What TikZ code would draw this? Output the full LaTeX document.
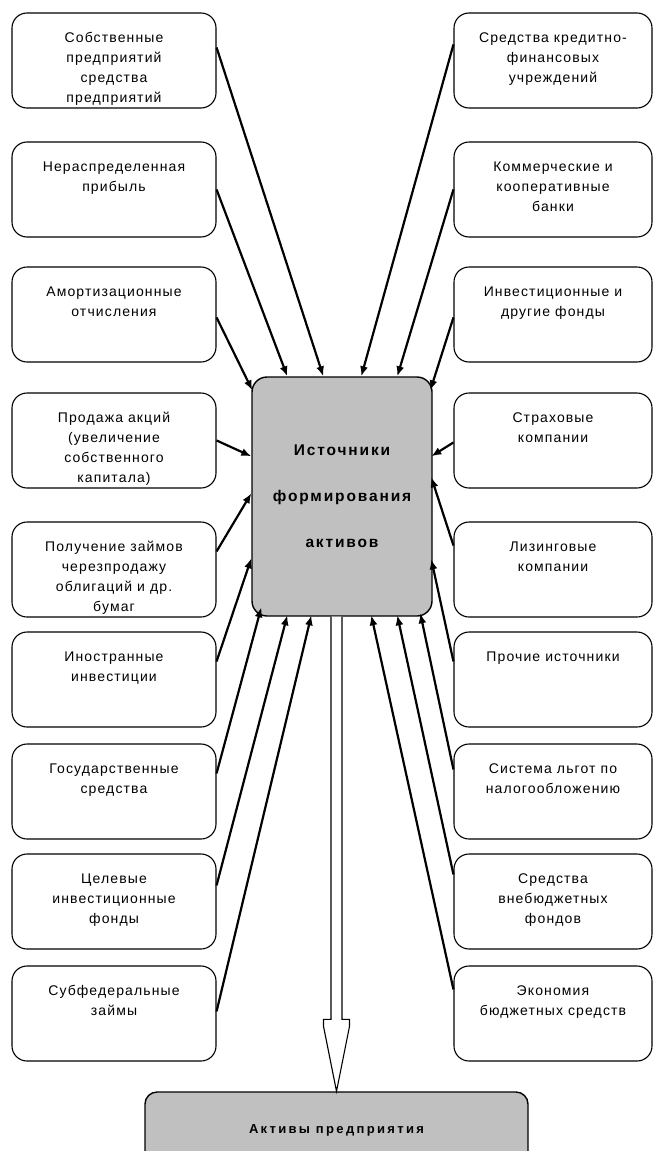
\documentclass[tikz,border=0pt]{standalone}
\usepackage{fontspec}
\setmainfont{Liberation Sans}
\newfontfamily\boxfont[LetterSpace=8]{Liberation Sans}
\newfontfamily\ctrfont[LetterSpace=12]{Liberation Sans}
\newfontfamily\btmfont[LetterSpace=18]{Liberation Sans}
\usetikzlibrary{arrows.meta,calc}
\definecolor{boxgray}{RGB}{192,192,192}
\newcommand{\bxtext}[1]{\parbox[c][95pt][t]{196pt}{\centering\rule{0pt}{29pt}#1\par}}
\tikzset{
  srcbox/.style={draw, line width=1.1pt, rounded corners=15pt, inner sep=0pt,
    minimum height=95pt, font=\boxfont\fontsize{14}{20}\selectfont},
  lbox/.style={srcbox, minimum width=204pt},
  rbox/.style={srcbox, minimum width=198pt},
  conn/.style={line width=2.2pt, -{Latex[length=10pt,width=8pt]}},
  hollow/.style={draw, line width=1.1pt, fill=white}
}
\begin{document}
\begin{tikzpicture}[x=1pt,y=-1pt]
\useasboundingbox (0,0) rectangle (654,1151);
\clip (0,0) rectangle (654,1151);
\fill[white] (0,0) rectangle (654,1151);
% left column
\node[lbox] (L1) at (114,60.5)   {\bxtext{Собственные\\предприятий\\средства\\предприятий}};
\node[lbox] (L2) at (114,189.5)  {\bxtext{Нераспределенная\\прибыль}};
\node[lbox] (L3) at (114,314.5)  {\bxtext{Амортизационные\\отчисления}};
\node[lbox] (L4) at (114,440.5)  {\bxtext{Продажа акций\\(увеличение\\собственного\\капитала)}};
\node[lbox] (L5) at (114,569.5)  {\bxtext{Получение займов\\черезпродажу\\облигаций и др.\\бумаг}};
\node[lbox] (L6) at (114,679.5)  {\bxtext{Иностранные\\инвестиции}};
\node[lbox] (L7) at (114,791.5)  {\bxtext{Государственные\\средства}};
\node[lbox] (L8) at (114,901.5)  {\bxtext{Целевые\\инвестиционные\\фонды}};
\node[lbox] (L9) at (114,1013.5) {\bxtext{Субфедеральные\\займы}};
% right column
\node[rbox] (R1) at (553,60.5)   {\bxtext{Средства кредитно-\\финансовых\\учреждений}};
\node[rbox] (R2) at (553,189.5)  {\bxtext{Коммерческие и\\кооперативные\\банки}};
\node[rbox] (R3) at (553,314.5)  {\bxtext{Инвестиционные и\\другие фонды}};
\node[rbox] (R4) at (553,440.5)  {\bxtext{Страховые\\компании}};
\node[rbox] (R5) at (553,569.5)  {\bxtext{Лизинговые\\компании}};
\node[rbox] (R6) at (553,679.5)  {\bxtext{Прочие источники}};
\node[rbox] (R7) at (553,791.5)  {\bxtext{Система льгот по\\налогообложению}};
\node[rbox] (R8) at (553,901.5)  {\bxtext{Средства\\внебюджетных\\фондов}};
\node[rbox] (R9) at (553,1013.5) {\bxtext{Экономия\\бюджетных средств}};
% centre
\node[draw, line width=1.4pt, fill=boxgray, rounded corners=15pt, inner sep=0pt,
  minimum width=180pt, minimum height=239pt, align=center,
  font=\ctrfont\bfseries\fontsize{15.5}{46}\selectfont] (C) at (342,496.5)
  {Источники\\формирования\\активов};
% bottom
\node[draw, line width=1.4pt, fill=boxgray, rounded corners=12pt, inner sep=0pt,
  minimum width=383pt, minimum height=76pt,
  font=\btmfont\bfseries\fontsize{13}{15}\selectfont] (B) at (336.5,1130)
  {Активы предприятия};
% connectors left
\draw[conn] ($(L1.north east)+(0,35)$) -- ($(C.north west)+(72,0)$);
\draw[conn] ($(L2.north east)+(0,48)$) -- ($(C.north west)+(36,0)$);
\draw[conn] ($(L3.north east)+(0,51)$) -- ($(C.north west)+(1,14)$);
\draw[conn] ($(L4.north east)+(0,48)$) -- ($(C.north west)+(0,80)$);
\draw[conn] ($(L5.north east)+(0,30)$) -- ($(C.north west)+(0,117)$);
\draw[conn] ($(L6.north east)+(0,30)$) -- ($(C.north west)+(0,182)$);
\draw[conn] ($(L7.north east)+(0,30)$) -- ($(C.north west)+(10,231)$);
\draw[conn] ($(L8.north east)+(0,32)$) -- ($(C.north west)+(36,239)$);
\draw[conn] ($(L9.north east)+(0,46)$) -- ($(C.north west)+(60,239)$);
% connectors right
\draw[conn] ($(R1.north west)+(0,32)$) -- ($(C.north west)+(110,0)$);
\draw[conn] ($(R2.north west)+(0,48)$) -- ($(C.north west)+(146,0)$);
\draw[conn] ($(R3.north west)+(0,51)$) -- ($(C.north west)+(179,14)$);
\draw[conn] ($(R4.north west)+(0,50)$) -- ($(C.north west)+(180,80)$);
\draw[conn] ($(R5.north west)+(0,24)$) -- ($(C.north west)+(180,101)$);
\draw[conn] ($(R6.north west)+(0,30)$) -- ($(C.north west)+(180,183)$);
\draw[conn] ($(R7.north west)+(0,26)$) -- ($(C.north west)+(169,237)$);
\draw[conn] ($(R8.north west)+(0,21)$) -- ($(C.north west)+(146,239)$);
\draw[conn] ($(R9.north west)+(0,24)$) -- ($(C.north west)+(120,239)$);
% hollow arrow from centre to bottom box
\coordinate (t) at (B.north);
\coordinate (s) at (C.south -| t);
\draw[hollow] ($(s)+(-5.5,0)$) -- ($(t)+(-5.5,-72)$) -- ($(t)+(-13,-72)$)
  -- ($(t)+(-13,-65)$) -- (t) -- ($(t)+(13,-65)$) -- ($(t)+(13,-72)$)
  -- ($(t)+(5.5,-72)$) -- ($(s)+(5.5,0)$);
\end{tikzpicture}
\end{document}
